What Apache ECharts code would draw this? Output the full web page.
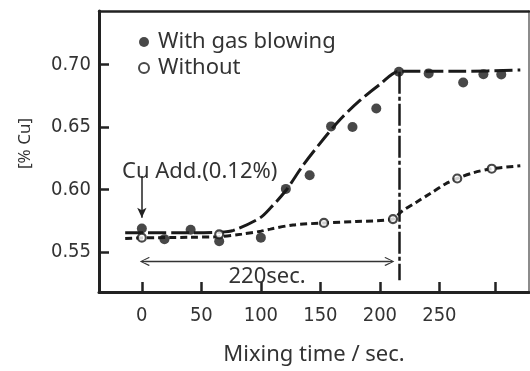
<!DOCTYPE html>
<html>
<head>
<meta charset="utf-8">
<script src="https://cdn.jsdelivr.net/npm/echarts@6/dist/echarts.min.js"></script>
<style>
  html, body { margin: 0; padding: 0; background: #fff; }
  #chart { width: 530px; height: 371px; }
</style>
</head>
<body>
<div id="chart"></div>
<script>
// measured points
const gasTime = [0, 19, 41, 65, 100, 121, 141, 159, 177, 197, 216, 241, 270, 287, 302];
const gasCu = [0.569, 0.5605, 0.568, 0.5588, 0.5617, 0.6006, 0.6115, 0.6505, 0.650, 0.6648, 0.6941, 0.6928, 0.6855, 0.6922, 0.692];
const noGasTime = [0, 65, 153, 211, 265, 294];
const noGasCu = [0.5617, 0.5643, 0.5734, 0.5765, 0.6089, 0.6167];

// hand-drawn trend curves
const gasFitTime = [-14, 0, 40, 65, 77, 99, 108, 121, 136, 154, 167, 183, 200, 216, 240, 270, 318];
const gasFitCu = [0.5655, 0.5655, 0.5655, 0.566, 0.5675, 0.5773, 0.5853, 0.5993, 0.6202, 0.642, 0.6564, 0.671, 0.684, 0.6945, 0.6945, 0.6945, 0.6955];
const noGasFitTime = [-14, 0, 40, 65, 84, 100, 108, 127, 153, 180, 211, 218, 231, 242, 255, 265, 279, 294, 318];
const noGasFitCu = [0.561, 0.5615, 0.562, 0.5625, 0.5645, 0.5668, 0.5685, 0.5718, 0.5734, 0.5746, 0.5765, 0.5824, 0.5902, 0.5967, 0.6045, 0.6089, 0.6136, 0.6167, 0.619];

const xTicks = [0, 50, 100, 150, 200, 250, 297];
const xLabels = [0, 50, 100, 150, 200, 250];
const yTicks = [0.55, 0.60, 0.65, 0.70];

// annotations
const endTime = 216;
const endTop = 0.6941;
const endBottom = 0.5276;
const spanFrom = 2.5;
const spanTo = 208;
const spanCu = 0.5427;
const addTop = 0.6109;
const addTip = 0.5775;

const ink = '#1a1a1a';
const textColor = '#333';
const textFont = 'Noto Sans';
const numFont = 'DejaVu Sans Condensed';
const chevron = 'path://M5,0 L10,9 L9,10 L5.6,3.2 L5.6,10 L4.4,10 L4.4,3.2 L1,10 L0,9 Z';

const zip = (a, b) => a.map((v, i) => [v, b[i]]);

const chart = echarts.init(document.getElementById('chart'));
chart.setOption({
  animation: false,
  grid: { left: 99, right: 1, top: 11, bottom: 72 },
  legend: {
    orient: 'vertical',
    left: 133,
    top: 26,
    itemWidth: 10,
    itemHeight: 10,
    itemGap: 4,
    data: [
      { name: 'With gas blowing', icon: 'circle' },
      { name: 'Without', icon: 'circle' },
    ],
    textStyle: { fontSize: 22, lineHeight: 22, color: textColor, fontFamily: textFont, padding: [0, 0, 0, 4] },
  },
  xAxis: [
    {
      type: 'value',
      min: -36,
      max: 325.3,
      axisLine: { onZero: false, lineStyle: { color: '#222', width: 3 } },
      axisTick: { inside: true, length: 10, lineStyle: { color: '#222', width: 2.5 }, customValues: xTicks },
      axisLabel: { customValues: xLabels, margin: 14, fontSize: 20, color: textColor, fontFamily: numFont },
      splitLine: { show: false },
      name: 'Mixing time / sec.',
      nameLocation: 'middle',
      nameGap: 52,
      nameTextStyle: { fontSize: 22, color: textColor, fontFamily: textFont },
    },
    {
      type: 'value',
      position: 'top',
      min: -36,
      max: 325.3,
      axisLine: { show: true, onZero: false, lineStyle: { color: '#222', width: 2.5 } },
      axisTick: { show: false },
      axisLabel: { show: false },
      splitLine: { show: false },
    },
  ],
  yAxis: [
    {
      type: 'value',
      min: 0.5183,
      max: 0.7426,
      axisLine: { show: true, onZero: false, lineStyle: { color: '#222', width: 3 } },
      axisTick: { show: true, inside: true, length: 10, lineStyle: { color: '#222', width: 2.5 }, customValues: yTicks },
      axisLabel: {
        customValues: yTicks,
        margin: 8,
        fontSize: 20,
        color: textColor,
        fontFamily: numFont,
        formatter: (v) => v.toFixed(2),
      },
      splitLine: { show: false },
    },
    {
      type: 'value',
      position: 'right',
      min: 0.5183,
      max: 0.7426,
      axisLine: { show: true, onZero: false, lineStyle: { color: '#666', width: 1.5 } },
      axisTick: { show: false },
      axisLabel: { show: false },
      splitLine: { show: false },
    },
  ],
  graphic: [
    {
      type: 'text',
      x: 25,
      y: 143.5,
      rotation: Math.PI / 2,
      style: { text: '[% Cu]', fontSize: 17, fill: textColor, fontFamily: textFont, align: 'center', verticalAlign: 'middle' },
    },
    {
      type: 'text',
      x: 122,
      y: 172,
      style: { text: 'Cu Add.(0.12%)', fontSize: 22, fill: textColor, fontFamily: textFont, verticalAlign: 'middle' },
    },
  ],
  series: [
    {
      name: 'gasFit',
      type: 'line',
      data: zip(gasFitTime, gasFitCu),
      showSymbol: false,
      smooth: 0.3,
      silent: true,
      lineStyle: { color: ink, width: 3, type: [18, 5] },
      z: 2,
    },
    {
      name: 'noGasFit',
      type: 'line',
      data: zip(noGasFitTime, noGasFitCu),
      showSymbol: false,
      smooth: 0.3,
      silent: true,
      lineStyle: { color: ink, width: 3, type: [7, 4] },
      z: 2,
    },
    {
      name: 'With gas blowing',
      type: 'scatter',
      data: zip(gasTime, gasCu),
      symbolSize: 10,
      itemStyle: { color: ink },
      z: 4,
      markLine: {
        silent: true,
        animation: false,
        symbol: 'none',
        data: [
          [
            { coord: [endTime, endTop], lineStyle: { color: ink, width: 2.5, type: [22, 3, 4, 3] } },
            { coord: [endTime, endBottom] },
          ],
          [
            {
              coord: [spanFrom, spanCu],
              symbol: chevron,
              symbolSize: [9, 10],
              lineStyle: { color: '#333', width: 1.3, type: 'solid' },
              label: {
                show: true,
                position: 'insideMiddleBottom',
                formatter: '220sec.',
                distance: 4,
                fontSize: 22,
                color: textColor,
                fontFamily: textFont,
              },
            },
            { coord: [spanTo, spanCu], symbol: chevron, symbolSize: [9, 10] },
          ],
          [
            { coord: [0, addTop], symbol: 'none', lineStyle: { color: '#222', width: 1.5, type: 'solid' } },
            { coord: [0, addTip], symbol: 'arrow', symbolSize: [7, 10] },
          ],
        ],
        label: { show: false },
      },
    },
    {
      name: 'Without',
      type: 'scatter',
      data: zip(noGasTime, noGasCu),
      symbolSize: 8,
      itemStyle: { color: '#fff', borderColor: ink, borderWidth: 2.2 },
      z: 5,
    },
  ],
});
</script>
</body>
</html>
